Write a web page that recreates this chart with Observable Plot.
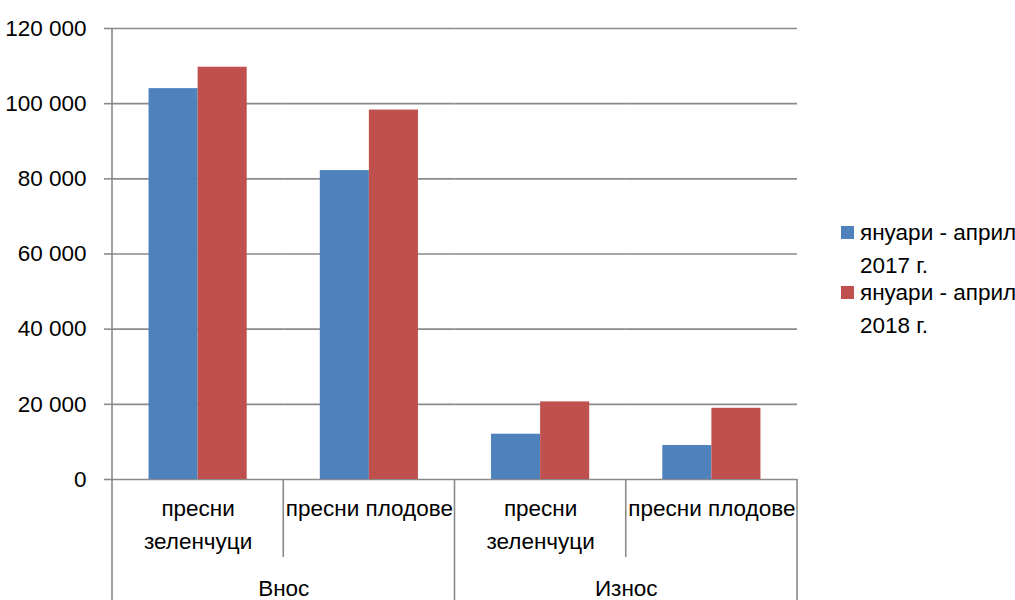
<!DOCTYPE html>
<html><head><meta charset="utf-8">
<script src="https://cdn.jsdelivr.net/npm/d3@7"></script>
<script src="https://cdn.jsdelivr.net/npm/@observablehq/plot@0.6"></script>
<style>html,body{margin:0;padding:0;background:#fff;overflow:hidden;}</style>
</head><body><div id="chart"></div>
<script>
const groups = ["Внос", "Внос", "Износ", "Износ"];
const products = ["пресни зеленчуци", "пресни плодове", "пресни зеленчуци", "пресни плодове"];
const productLabels = ["пресни\nзеленчуци", "пресни плодове", "пресни\nзеленчуци", "пресни плодове"];
const seriesNames = ["януари - април 2017 г.", "януари - април 2018 г."];
const legendLines = [["януари - април", "2017 г."], ["януари - април", "2018 г."]];
const values2017 = [104000, 82200, 12050, 9050];
const values2018 = [109700, 98300, 20650, 18950];
const yTicks = [0, 20000, 40000, 60000, 80000, 100000, 120000];
const colors = ["#4F81BD", "#C0504D"];

const GRID = "#8a8a8a";
const FONT = "'Liberation Sans', Arial, sans-serif";
const FS = 22.5;
const keys = groups.map((g, i) => g + " | " + products[i]);
const rows = [];
keys.forEach((k, i) => {
  rows.push({key: k, series: seriesNames[0], value: values2017[i]});
  rows.push({key: k, series: seriesNames[1], value: values2018[i]});
});
const catRows = keys.map((k, i) => ({key: k, label: productLabels[i]}));
const groupRows = keys.map((k, i) => ({key: k, group: groups[i], first: i === 0 || groups[i] !== groups[i - 1]})).filter(d => d.first);
const fmt = d => d3.format(",")(d).replace(/,/g, " ");

const plot = Plot.plot({
  width: 1015, height: 600,
  marginLeft: 112, marginRight: 218, marginTop: 28, marginBottom: 121,
  style: {fontFamily: FONT, background: "#fff", color: "#000", overflow: "hidden"},
  fx: {domain: keys, padding: 0, round: false, axis: null, label: null},
  x: {domain: seriesNames, paddingInner: 0, paddingOuter: 0.745, round: false, axis: null, label: null},
  y: {domain: [0, 120000], axis: null},
  color: {domain: seriesNames, range: colors},
  marks: [
    Plot.ruleY(yTicks, {stroke: GRID, strokeWidth: 1.6}),
    Plot.barY(rows, {fx: "key", x: "series", y: "value", fill: "series"}),
    Plot.axisY({ticks: yTicks, tickSize: 8, tickPadding: 18, tickFormat: fmt, fontSize: FS, stroke: GRID, strokeWidth: 1.6, fill: "#000", label: null}),
    Plot.text(catRows, {fx: "key", text: "label", frameAnchor: "bottom", lineAnchor: "top", dy: 13, lineHeight: 1.47, fontSize: FS, fill: "#000"}),
    Plot.text(groupRows, {fx: "key", text: "group", frameAnchor: "bottom-right", textAnchor: "middle", lineAnchor: "bottom", dy: 116, fontSize: FS, fill: "#000"})
  ]
});
document.getElementById("chart").appendChild(plot);

// category axis separators and left axis line, positioned from Plot's scales
const svg = d3.select(plot);
const fx = plot.scale("fx");
const y = plot.scale("y");
const starts = keys.map(k => fx.apply(k));
const end = starts[starts.length - 1] + fx.bandwidth;
const y0 = y.apply(0), yTop = y.apply(120000);
const g = svg.append("g").attr("stroke", GRID).attr("stroke-width", 1.6);
g.append("line").attr("x1", starts[0]).attr("x2", starts[0]).attr("y1", yTop).attr("y2", 600);
for (let i = 1; i < keys.length; i++) {
  const groupBoundary = groups[i] !== groups[i - 1];
  g.append("line").attr("x1", starts[i]).attr("x2", starts[i]).attr("y1", y0).attr("y2", groupBoundary ? 600 : y0 + 78);
}
g.append("line").attr("x1", end).attr("x2", end).attr("y1", y0).attr("y2", 600);

// legend
const leg = svg.append("g").attr("font-family", FONT).attr("font-size", FS).attr("text-anchor", "start");
seriesNames.forEach((s, i) => {
  const top = 226 + i * 60;
  leg.append("rect").attr("x", 841).attr("y", top).attr("width", 13).attr("height", 13).attr("fill", colors[i]);
  const t = leg.append("text").attr("x", 860).attr("y", top + 14).attr("fill", "#000").attr("text-anchor", "start");
  legendLines[i].forEach((line, j) => {
    t.append("tspan").attr("x", 860).attr("dy", j === 0 ? 0 : 33).text(line);
  });
});
</script>
</body></html>
